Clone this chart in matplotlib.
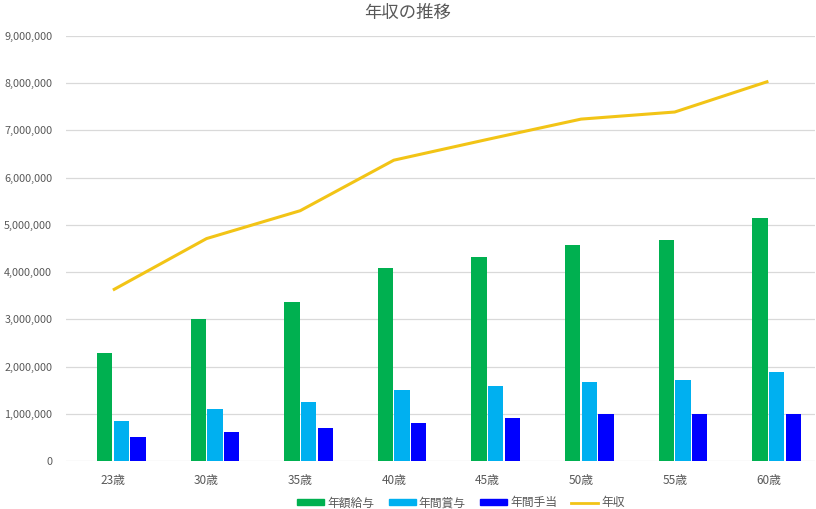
import matplotlib
matplotlib.use('Agg')
import matplotlib.pyplot as plt
from matplotlib.ticker import FuncFormatter
from matplotlib.patches import Patch
from matplotlib.lines import Line2D
import numpy as np

plt.rcParams['font.family'] = ['Noto Sans CJK JP', 'DejaVu Sans']

ages = ['23歳', '30歳', '35歳', '40歳', '45歳', '50歳', '55歳', '60歳']
salary = [2280000, 3000000, 3360000, 4080000, 4320000, 4580000, 4680000, 5150000]
bonus = [850000, 1100000, 1240000, 1500000, 1590000, 1680000, 1720000, 1890000]
allowance = [500000, 610000, 700000, 800000, 910000, 1000000, 1000000, 1000000]
income = [3620000, 4710000, 5300000, 6370000, 6810000, 7240000, 7390000, 8040000]

c_green = '#00B050'
c_lblue = '#00B0F0'
c_blue = '#0000FF'
c_gold = '#F2C416'
c_text = '#595959'

fig = plt.figure(figsize=(8.16, 5.09), dpi=100)
ax = fig.add_axes([0.081, 0.0943, 0.918, 0.8350])

x = np.arange(len(ages))
w = 0.178
# first slot of each group is empty in the original
ax.bar(x - 0.5 * w, salary, w * 0.92, color=c_green, zorder=2)
ax.bar(x + 0.5 * w, bonus, w * 0.92, color=c_lblue, zorder=2)
ax.bar(x + 1.5 * w, allowance, w * 0.92, color=c_blue, zorder=2)
ax.plot(x, income, color=c_gold, lw=2.2, solid_capstyle='butt', zorder=3)

ax.set_xlim(-0.5, len(ages) - 0.5)
ax.set_ylim(0, 9000000)
ax.set_yticks(np.arange(0, 9000001, 1000000))
ax.yaxis.set_major_formatter(FuncFormatter(lambda v, p: f'{int(v):,}'))
ax.set_xticks(x)
ax.set_xticklabels(ages)
ax.grid(axis='y', color='#D9D9D9', lw=0.9, zorder=0)
for s in ax.spines.values():
    s.set_visible(False)
ax.tick_params(length=0, colors=c_text)
ax.tick_params(axis='y', pad=10, labelsize=7.8)
ax.tick_params(axis='x', pad=9, labelsize=8.5)

fig.text(0.5, 0.975, '年収の推移', ha='center', va='center', fontsize=12.5, color=c_text)

handles = [
    Patch(color=c_green, label='年額給与'),
    Patch(color=c_lblue, label='年間賞与'),
    Patch(color=c_blue, label='年間手当'),
    Line2D([], [], color=c_gold, lw=2, label='年収'),
]
fig.legend(handles=handles, loc='center', bbox_to_anchor=(0.565, 0.012), ncol=4,
           frameon=False, fontsize=8.5, labelcolor=c_text, handlelength=2.3,
           handleheight=0.45, handletextpad=0.25, columnspacing=1.2)

fig.savefig('out.png', dpi=100)
